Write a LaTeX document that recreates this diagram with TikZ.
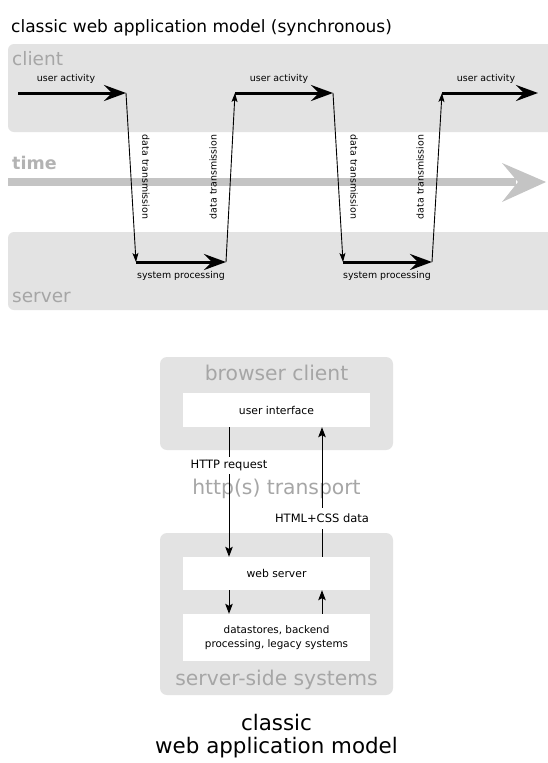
\documentclass[tikz,border=0pt]{standalone}
\usepackage{fontspec}
\setmainfont{DejaVu Sans}
\usetikzlibrary{arrows.meta,calc}
\definecolor{boxgray}{HTML}{E3E3E3}
\definecolor{labgray}{HTML}{A6A6A6}
\definecolor{timegray}{HTML}{C4C4C4}
\newcommand{\fsz}[1]{\fontsize{#1}{#1}\selectfont}
\begin{document}
\begin{tikzpicture}[x=1pt,y=-1pt,
  gbox/.style={fill=boxgray, rounded corners=7pt, inner sep=0pt},
  wbox/.style={fill=white, inner sep=0pt, minimum width=187pt, align=center, font=\fsz{10.8}},
  graylab/.style={text=labgray, inner sep=0pt, font=\fsz{18.5}},
  small/.style={inner sep=0pt, font=\fsz{9.4}},
  thickarr/.style={line width=3pt, -{Stealth[length=22pt,width=16pt,inset=8pt]}},
  thinarr/.style={line width=0.9pt, -{Stealth[length=9pt,width=6pt,inset=2pt]}},
  lowarr/.style={line width=1pt, -{Stealth[length=10pt,width=7.5pt,inset=2pt]}},
  lowline/.style={line width=1pt}
]
\useasboundingbox (0,0) rectangle (548,763);
\fill[white] (0,0) rectangle (548,763);

% title
\node[anchor=west, inner sep=0pt, font=\fsz{17}] (title) at (11,28) {classic web application model (synchronous)};

% client / server bands
\begin{scope}
\clip (0,0) rectangle (548,763);
\path[fill=boxgray, rounded corners=6pt] (8,44) rectangle (570,132);
\path[fill=boxgray, rounded corners=6pt] (8,232) rectangle (570,310);
\end{scope}
\node[graylab, anchor=west] (clientlab) at (12,59) {client};
\node[graylab, anchor=west] (serverlab) at (12,297) {server};

% time arrow
\fill[timegray] (8,178) rectangle (516,186);
\fill[timegray] (502,163) -- (546,182) -- (502,202) -- (518,182) -- cycle;
\node[anchor=west, inner sep=0pt, text=labgray!85, font=\bfseries\fsz{17.5}] (timelab) at (12,163) {time};

% timeline points
\coordinate (a0) at (18,93);
\coordinate (a1) at (126,93);
\coordinate (b1) at (136,262);
\coordinate (b1e) at (226,262);
\coordinate (a2) at (235,93);
\coordinate (a2e) at (333,93);
\coordinate (b2) at (343,262);
\coordinate (b2e) at (432,262);
\coordinate (a3) at (442,93);
\coordinate (a3e) at (538,93);

\draw[thickarr] (a0) -- (a1);
\draw[thickarr] (a2) -- (a2e);
\draw[thickarr] (a3) -- (a3e);
\draw[thickarr] (b1) -- (b1e);
\draw[thickarr] (b2) -- (b2e);
\draw[thinarr] (a1) -- (b1);
\draw[thinarr] (b1e) -- (a2);
\draw[thinarr] (a2e) -- (b2);
\draw[thinarr] (b2e) -- (a3);

\node[small] (ua1) at (66,79) {user activity};
\node[small] (ua2) at (279,79) {user activity};
\node[small] (ua3) at (486,79) {user activity};
\node[small] (sp1) at (181,276) {system processing};
\node[small] (sp2) at (387,276) {system processing};
\node[small, rotate=-90] (dt1) at (146,177) {data transmission};
\node[small, rotate=90] (dt2) at (213,177) {data transmission};
\node[small, rotate=-90] (dt3) at (354,177) {data transmission};
\node[small, rotate=90] (dt4) at (420,177) {data transmission};

% lower diagram
\node[gbox, minimum width=233pt, minimum height=93pt] (bcbox) at (276.5,403.5) {};
\node[graylab, font=\fsz{20.3}] (bclab) at (276.5,373) {browser client};
\node[wbox, minimum height=34pt] (ui) at (276.5,410) {user interface};

\node[graylab, font=\fsz{20.3}] (transport) at (276.5,489) {http(s) transport};

\node[gbox, minimum width=233pt, minimum height=162pt] (ssbox) at (276.5,614) {};
\node[wbox, minimum height=33pt] (ws) at (276.5,573.5) {web server};
\node[wbox, minimum height=47pt, font=\fsz{10.4}] (ds) at (276.5,637.5) {datastores, backend\\[3pt]processing, legacy systems};
\node[graylab, font=\fsz{20.3}] (sslab) at (276.5,680) {server-side systems};

\node[inner sep=0pt, font=\fsz{11.5}, minimum height=17pt] (req) at (229,465.5) {HTTP request};
\node[inner sep=0pt, font=\fsz{11.5}, minimum height=21pt] (resp) at (322,518.5) {HTML+CSS data};

\draw[lowline] (ui.south -| req.north) -- (req.north);
\draw[lowarr] (req.south) -- (req.south |- ws.north);
\draw[lowline] (ws.north -| resp.south) -- (resp.south);
\draw[lowarr] (resp.north) -- (resp.north |- ui.south);
\draw[lowarr] (ws.south -| req.south) -- (ds.north -| req.south);
\draw[lowarr] (ds.north -| resp.north) -- (ws.south -| resp.north);

\node[inner sep=0pt, font=\fsz{21.4}] (cap1) at (276.5,723) {classic};
\node[inner sep=0pt, font=\fsz{21.4}] (cap2) at (276.5,748) {web application model};
\end{tikzpicture}
\end{document}
